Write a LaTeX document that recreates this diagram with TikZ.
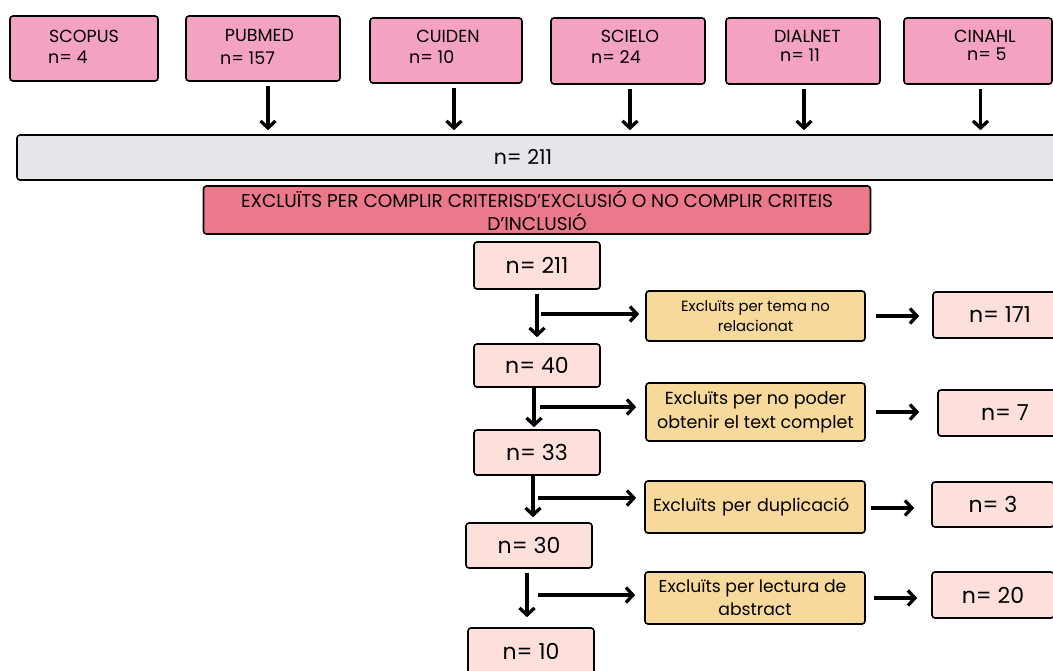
\documentclass[tikz,border=0pt]{standalone}
\usepackage{fontspec}
\setmainfont{Poppins}
\usetikzlibrary{arrows.meta}
\definecolor{srcpink}{HTML}{F4A2C2}
\definecolor{graybox}{HTML}{E6E6EA}
\definecolor{redbox}{HTML}{EC788C}
\definecolor{lightpink}{HTML}{FDE0DC}
\definecolor{orangebox}{HTML}{F8D99C}
\begin{document}
\begin{tikzpicture}[x=1pt,y=-1pt,
  box/.style={draw=black, line width=1.6pt, rounded corners=3pt, inner sep=0pt, text=black},
  src/.style={box, fill=srcpink},
  total/.style={box, fill=graybox},
  excl/.style={box, fill=redbox},
  cnt/.style={box, fill=lightpink, font=\fontsize{22}{26}\selectfont},
  why/.style={box, fill=orangebox, align=center},
  txt/.style={inner sep=0pt, text=black, font=\fontsize{17.5}{21}\selectfont},
  arr/.style={line width=3.3pt, -{Straight Barb[length=7pt,width=15pt]}},
]
\useasboundingbox (0,0) rectangle (1053,670);
\fill[white] (0,0) rectangle (1053,670);

% sources
\node[src, minimum width=148pt, minimum height=65pt] (scopus) at (84,48.5) {};
\node[src, minimum width=154pt, minimum height=65pt] (pubmed) at (263,48.5) {};
\node[src, minimum width=152pt, minimum height=65pt] (cuiden) at (446,50.5) {};
\node[src, minimum width=154pt, minimum height=66pt] (scielo) at (628,51) {};
\node[src, minimum width=154pt, minimum height=66pt] (dialnet) at (803,51) {};
\node[src, minimum width=148pt, minimum height=66pt] (cinahl) at (978,51) {};

\node[txt] (t1) at (84,36) {SCOPUS};
\node[txt, anchor=west] (n1) at (48,57) {n= 4};
\node[txt] (t2) at (259.5,35) {PUBMED};
\node[txt, anchor=west] (n2) at (220,58) {n= 157};
\node[txt] (t3) at (448,36) {CUIDEN};
\node[txt, anchor=west] (n3) at (409,57) {n= 10};
\node[txt] (t4) at (630,36) {SCIELO};
\node[txt, anchor=west] (n4) at (591,57) {n= 24};
\node[txt] (t5) at (807.5,36) {DIALNET};
\node[txt, anchor=west] (n5) at (780,55) {n= 11};
\node[txt] (t6) at (985,36) {CINAHL};
\node[txt, anchor=west] (n6) at (967,54) {n= 5};

% total
\node[total, minimum width=1052pt, minimum height=45pt] (total) at (543,157.5) {};
\node[txt, font=\fontsize{20.5}{24}\selectfont] (totaltxt) at (523,157) {n= 211};

\foreach \s/\dx in {pubmed/5, cuiden/8, scielo/2, dialnet/1, cinahl/2.5}
  \draw[arr, shorten <=4pt, shorten >=4pt] ([xshift=\dx pt]\s.south) -- ([xshift=\dx pt]\s.south |- total.north);

% exclusion criteria
\node[excl, minimum width=667pt, minimum height=48pt, align=center,
      font=\fontsize{18.5}{23}\selectfont] (crit) at (537,210)
  {EXCLUÏTS PER COMPLIR CRITERISD’EXCLUSIÓ O NO COMPLIR CRITEIS\\D’INCLUSIÓ};

% counts column
\node[cnt, minimum width=126pt, minimum height=47pt] (c211) at (537,265.5) {n= 211};
\node[cnt, minimum width=126pt, minimum height=43pt] (c40) at (537,365.5) {n= 40};
\node[cnt, minimum width=126pt, minimum height=45pt] (c33) at (537,452.5) {n= 33};
\node[cnt, minimum width=126pt, minimum height=45pt] (c30) at (529,545.5) {n= 30};
\node[cnt, minimum width=126pt, minimum height=47pt] (c10) at (531,651.5) {n= 10};

% reasons
\node[why, minimum width=219pt, minimum height=50pt, font=\fontsize{14.8}{20}\selectfont] (o1) at (755.5,316)
  {Excluïts per tema no\\relacionat};
\node[why, minimum width=219pt, minimum height=58pt, font=\fontsize{17.5}{24}\selectfont] (o2) at (755.5,412)
  {Excluïts per no poder\\obtenir el text complet};
\node[why, minimum width=220pt, minimum height=52pt, font=\fontsize{17.5}{24}\selectfont,
      text width=210pt, align=left] (o3) at (755,507)
  {\hspace*{3pt}Excluïts per duplicació};
\node[why, minimum width=220pt, minimum height=52pt, font=\fontsize{17.2}{23}\selectfont] (o4) at (755,598)
  {\hspace*{-5pt}Excluïts per lectura de\\abstract};

% results
\node[cnt, minimum width=134pt, minimum height=46pt] (r1) at (1000,315) {n= 171};
\node[cnt, minimum width=134pt, minimum height=46pt] (r2) at (1005,413) {n= 7};
\node[cnt, minimum width=122pt, minimum height=45pt] (r3) at (993,504.5) {n= 3};
\node[cnt, minimum width=122pt, minimum height=46pt] (r4) at (993,595) {n= 20};

% vertical arrows
\draw[arr, shorten <=4pt, shorten >=6pt] (c211.south) -- (c40.north);
\draw[arr, shorten <=0pt, shorten >=2pt] ([xshift=-3pt]c40.south) -- ([xshift=-3pt]c40.south |- c33.north);
\draw[arr, shorten <=0pt, shorten >=5pt] ([xshift=-4pt]c33.south) -- ([xshift=-4pt]c33.south |- c30.north);
\draw[arr, shorten <=4pt, shorten >=10pt] ([xshift=-2pt]c30.south) -- ([xshift=-2pt]c30.south |- c10.north);

% branch arrows
\coordinate (b1) at (541,314);
\coordinate (b2) at (540,407);
\coordinate (b3) at (538,498);
\coordinate (b4) at (538,595);
\draw[arr, shorten >=6pt] (b1) -- (b1 -| o1.west);
\draw[arr, shorten >=9pt] (b2) -- (b2 -| o2.west);
\draw[arr, shorten >=8pt] (b3) -- (b3 -| o3.west);
\draw[arr, shorten >=9pt] (b4) -- (b4 -| o4.west);

% result arrows
\draw[arr, shorten <=10pt, shorten >=13pt] (o1.east) -- (o1.east -| r1.west);
\draw[arr, shorten <=10pt, shorten >=18pt] (o2.east) -- (o2.east -| r2.west);
\draw[arr, shorten <=5pt, shorten >=17pt] ([yshift=-1pt]o3.east) -- ([yshift=-1pt]o3.east -| r3.west);
\draw[arr, shorten <=8pt, shorten >=14pt] (o4.east) -- (o4.east -| r4.west);
\end{tikzpicture}
\end{document}
